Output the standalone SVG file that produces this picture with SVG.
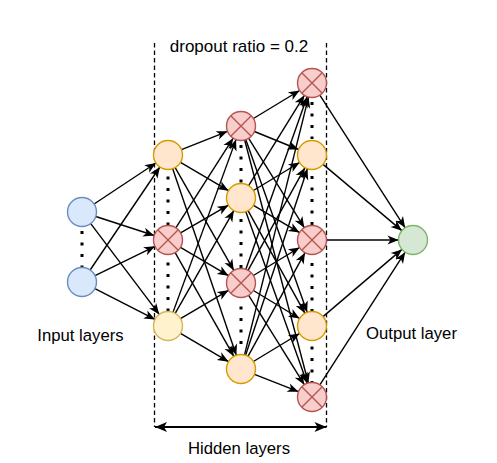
<svg xmlns="http://www.w3.org/2000/svg" width="497" height="463" viewBox="0 0 497 463">
<style>
.bg{fill:#ffffff}
.e{stroke:#000;stroke-width:1.4;fill:none;marker-end:url(#arr)}
.c{stroke-width:1.4}
.blue{fill:#dae8fc;stroke:#6c8ebf}
.orange{fill:#ffe6cc;stroke:#d79b00}
.yellow{fill:#fff2cc;stroke:#d6b656}
.red{fill:#f8cecc;stroke:#b85450}
.green{fill:#d5e8d4;stroke:#82b366}
.x{stroke:#b85450;stroke-width:1.4;fill:none}
.dots{stroke:#000;stroke-width:3;stroke-dasharray:3 8.5;fill:none}
.dash{stroke:#000;stroke-width:1.3;stroke-dasharray:4.5 3;fill:none}
.t{font-family:"Liberation Sans",Arial,Helvetica,sans-serif;font-size:16.7px;fill:#000;text-anchor:middle}
</style>
<defs>
<marker id="arr" markerUnits="userSpaceOnUse" markerWidth="13" markerHeight="11" refX="11" refY="4.5" orient="auto" overflow="visible">
<path d="M0,0 L11,4.5 L0,9 L3,4.5 Z" fill="#000"/>
</marker>
<marker id="big" markerUnits="userSpaceOnUse" markerWidth="14" markerHeight="12" refX="12" refY="5" orient="auto-start-reverse" overflow="visible">
<path d="M0,0 L12,5 L0,10 L3,5 Z" fill="#000"/>
</marker>
</defs>
<rect class="bg" x="0" y="0" width="497" height="463"/>

<g id="frame">
<line class="dash" x1="154.5" y1="43" x2="154.5" y2="427"/>
<line class="dash" x1="326.5" y1="43" x2="326.5" y2="427"/>
<line x1="155" y1="427" x2="326.5" y2="427" stroke="#000" stroke-width="2" marker-start="url(#big)" marker-end="url(#big)"/>
</g>

<g id="dotted-columns">
<line class="dots" x1="82" y1="231" x2="82" y2="268"/>
<line class="dots" x1="168" y1="176.5" x2="168" y2="226"/>
<line class="dots" x1="168" y1="262.5" x2="168" y2="312"/>
<line class="dots" x1="241" y1="145" x2="241" y2="184"/>
<line class="dots" x1="241" y1="219" x2="241" y2="268.5"/>
<line class="dots" x1="241" y1="306.5" x2="241" y2="345"/>
<line class="dots" x1="312" y1="102" x2="312" y2="139"/>
<line class="dots" x1="312" y1="176" x2="312" y2="225"/>
<line class="dots" x1="312" y1="263" x2="312" y2="312"/>
<line class="dots" x1="312" y1="346.5" x2="312" y2="384"/>
</g>

<g id="connectors">
<line class="e" x1="94.09" y1="203.99" x2="155.91" y2="163.01"/>
<line class="e" x1="95.79" y1="216.49" x2="154.21" y2="235.51"/>
<line class="e" x1="90.73" y1="223.58" x2="159.27" y2="314.42"/>
<line class="e" x1="90.13" y1="269.99" x2="159.87" y2="167.01"/>
<line class="e" x1="95.03" y1="275.64" x2="154.97" y2="246.36"/>
<line class="e" x1="94.91" y1="288.60" x2="155.09" y2="319.40"/>

<line class="e" x1="181.48" y1="149.65" x2="227.52" y2="131.35"/>
<line class="e" x1="180.49" y1="162.36" x2="228.51" y2="190.64"/>
<line class="e" x1="175.18" y1="167.60" x2="233.82" y2="270.40"/>
<line class="e" x1="172.68" y1="168.72" x2="236.32" y2="355.28"/>
<line class="e" x1="175.82" y1="227.79" x2="233.18" y2="138.21"/>
<line class="e" x1="180.57" y1="232.77" x2="228.43" y2="205.23"/>
<line class="e" x1="180.49" y1="247.36" x2="228.51" y2="275.64"/>
<line class="e" x1="175.14" y1="252.62" x2="233.86" y2="356.38"/>
<line class="e" x1="172.97" y1="312.38" x2="236.03" y2="139.62"/>
<line class="e" x1="175.18" y1="313.40" x2="233.82" y2="210.60"/>
<line class="e" x1="180.49" y1="318.64" x2="228.51" y2="290.36"/>
<line class="e" x1="180.49" y1="333.36" x2="228.51" y2="361.64"/>

<line class="e" x1="253.40" y1="118.49" x2="299.60" y2="90.51"/>
<line class="e" x1="254.42" y1="131.48" x2="298.58" y2="149.52"/>
<line class="e" x1="248.67" y1="138.31" x2="304.33" y2="227.69"/>
<line class="e" x1="245.85" y1="139.66" x2="307.15" y2="312.34"/>
<line class="e" x1="244.67" y1="140.03" x2="308.33" y2="382.97"/>
<line class="e" x1="248.62" y1="185.66" x2="304.38" y2="95.34"/>
<line class="e" x1="253.40" y1="190.49" x2="299.60" y2="162.51"/>
<line class="e" x1="253.48" y1="205.38" x2="299.52" y2="232.62"/>
<line class="e" x1="248.03" y1="210.68" x2="304.97" y2="313.32"/>
<line class="e" x1="245.87" y1="211.66" x2="307.13" y2="383.34"/>
<line class="e" x1="245.85" y1="269.34" x2="307.15" y2="96.66"/>
<line class="e" x1="248.03" y1="270.32" x2="304.97" y2="167.68"/>
<line class="e" x1="253.40" y1="275.49" x2="299.60" y2="247.51"/>
<line class="e" x1="253.40" y1="290.51" x2="299.60" y2="318.49"/>
<line class="e" x1="248.67" y1="295.31" x2="304.33" y2="384.69"/>
<line class="e" x1="244.49" y1="354.93" x2="308.51" y2="97.07"/>
<line class="e" x1="245.57" y1="355.24" x2="307.43" y2="168.76"/>
<line class="e" x1="247.99" y1="356.30" x2="305.01" y2="252.70"/>
<line class="e" x1="253.40" y1="361.49" x2="299.60" y2="333.51"/>
<line class="e" x1="254.49" y1="374.32" x2="298.51" y2="391.68"/>

<line class="e" x1="319.84" y1="95.19" x2="405.16" y2="227.81"/>
<line class="e" x1="323.09" y1="164.34" x2="401.91" y2="230.66"/>
<line class="e" x1="326.5" y1="240" x2="398.5" y2="240"/>
<line class="e" x1="323.04" y1="316.60" x2="401.96" y2="249.40"/>
<line class="e" x1="319.84" y1="384.81" x2="405.16" y2="252.19"/>
</g>

<g id="in1"><circle class="c blue" cx="82" cy="212" r="14.5"/></g>
<g id="in2"><circle class="c blue" cx="82" cy="282" r="14.5"/></g>

<g id="h1a"><circle class="c orange" cx="168" cy="155" r="14.5"/></g>
<g id="h1b"><circle class="c red" cx="168" cy="240" r="14.5"/><path class="x" d="M157.75,229.75 L178.25,250.25 M178.25,229.75 L157.75,250.25"/></g>
<g id="h1c"><circle class="c yellow" cx="168" cy="326" r="14.5"/></g>

<g id="h2a"><circle class="c red" cx="241" cy="126" r="14.5"/><path class="x" d="M230.75,115.75 L251.25,136.25 M251.25,115.75 L230.75,136.25"/></g>
<g id="h2b"><circle class="c orange" cx="241" cy="198" r="14.5"/></g>
<g id="h2c"><circle class="c red" cx="241" cy="283" r="14.5"/><path class="x" d="M230.75,272.75 L251.25,293.25 M251.25,272.75 L230.75,293.25"/></g>
<g id="h2d"><circle class="c orange" cx="241" cy="369" r="14.5"/></g>

<g id="h3a"><circle class="c red" cx="312" cy="83" r="14.5"/><path class="x" d="M301.75,72.75 L322.25,93.25 M322.25,72.75 L301.75,93.25"/></g>
<g id="h3b"><circle class="c orange" cx="312" cy="155" r="14.5"/></g>
<g id="h3c"><circle class="c red" cx="312" cy="240" r="14.5"/><path class="x" d="M301.75,229.75 L322.25,250.25 M322.25,229.75 L301.75,250.25"/></g>
<g id="h3d"><circle class="c orange" cx="312" cy="326" r="14.5"/></g>
<g id="h3e"><circle class="c red" cx="312" cy="397" r="14.5"/><path class="x" d="M301.75,386.75 L322.25,407.25 M322.25,386.75 L301.75,407.25"/></g>

<g id="out"><circle class="c green" cx="413" cy="240" r="14.5"/></g>

<g id="labels">
<text class="t" x="239" y="52" style="font-size:17px">dropout ratio = 0.2</text>
<text class="t" x="80.5" y="341">Input layers</text>
<text class="t" x="411.5" y="339">Output layer</text>
<text class="t" x="239" y="454">Hidden layers</text>
</g>
</svg>
